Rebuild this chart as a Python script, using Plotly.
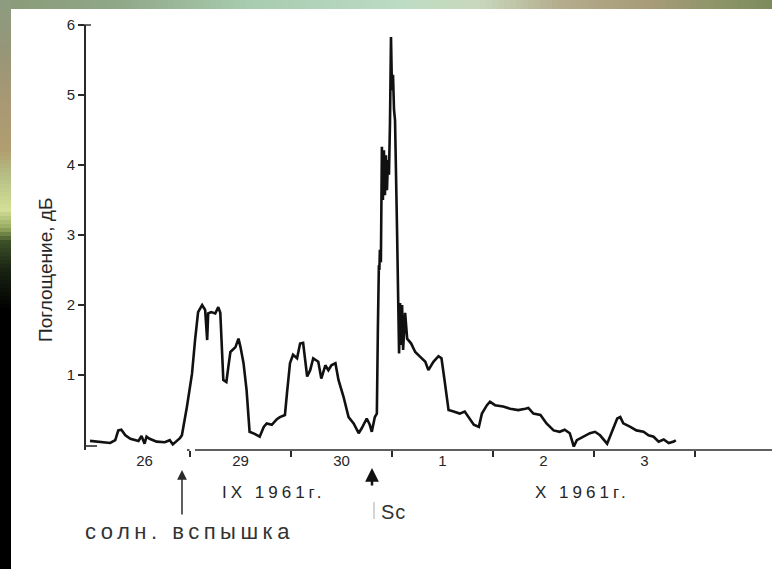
import plotly.graph_objects as go

# ---- data (days from start of 29 Sept 1961; absorption, dB) ----
days = [-0.99, -0.89, -0.79, -0.74, -0.71, -0.68, -0.64, -0.59, -0.51, -0.48,
        -0.45, -0.43, -0.40, -0.33, -0.25, -0.20, -0.17, -0.10, -0.08,
        -0.03, 0.02, 0.05, 0.08, 0.12, 0.15, 0.17, 0.18, 0.21, 0.25, 0.28, 0.30,
        0.33, 0.36, 0.38, 0.40, 0.45, 0.48, 0.50, 0.53, 0.56, 0.59, 0.64, 0.69,
        0.73, 0.76, 0.81, 0.86, 0.89, 0.94, 0.96, 0.99, 1.02, 1.06, 1.09, 1.12,
        1.16, 1.19, 1.22, 1.27, 1.30, 1.34, 1.37, 1.40, 1.44, 1.47, 1.52, 1.57,
        1.62, 1.67, 1.70, 1.75, 1.78, 1.80, 1.83, 1.85,
        1.86, 1.87, 1.875, 1.88, 1.89, 1.90, 1.91, 1.92, 1.93, 1.94, 1.95, 1.96,
        1.97, 1.98, 1.99, 2.00, 2.01, 2.02, 2.03, 2.05, 2.07, 2.08, 2.09, 2.10,
        2.11, 2.13, 2.15, 2.19, 2.23, 2.28, 2.33, 2.36, 2.41, 2.46, 2.49, 2.52,
        2.56, 2.61, 2.67, 2.72, 2.76, 2.81, 2.86, 2.89, 2.94, 2.97, 3.02, 3.10,
        3.17, 3.25, 3.32, 3.35, 3.40, 3.47, 3.53, 3.60, 3.66, 3.71, 3.76, 3.80,
        3.83, 3.89, 3.96, 4.01, 4.06, 4.13, 4.18, 4.23, 4.26, 4.29, 4.36, 4.42,
        4.49, 4.54, 4.59, 4.64, 4.69, 4.74, 4.79, 4.81]
absorption = [0.06, 0.05, 0.03, 0.07, 0.21, 0.22, 0.14, 0.09, 0.06, 0.13,
              0.02, 0.12, 0.09, 0.05, 0.04, 0.07, 0.01, 0.10, 0.14,
              0.55, 1.02, 1.50, 1.90, 2.00, 1.93, 1.50, 1.88, 1.90, 1.88, 1.97, 1.89,
              0.93, 0.90, 1.12, 1.33, 1.40, 1.52, 1.40, 1.17, 0.79, 0.19, 0.16, 0.12,
              0.26, 0.31, 0.29, 0.37, 0.40, 0.43, 0.74, 1.17, 1.29, 1.24, 1.45, 1.46,
              0.98, 1.07, 1.24, 1.19, 0.95, 1.14, 1.07, 1.14, 1.17, 0.93, 0.69, 0.40,
              0.31, 0.17, 0.24, 0.38, 0.29, 0.19, 0.40, 0.45,
              1.64, 2.57, 2.50, 2.79, 2.61, 4.26, 3.50, 4.21, 3.57, 4.14, 3.64, 4.07,
              3.86, 4.60, 5.83, 5.07, 5.29, 4.79, 4.64, 3.07, 1.31, 2.03, 1.43, 2.00,
              1.36, 1.89, 1.52, 1.45, 1.33, 1.26, 1.19, 1.07, 1.19, 1.27, 1.24, 0.93,
              0.50, 0.48, 0.45, 0.48, 0.40, 0.29, 0.26, 0.45, 0.57, 0.62, 0.57, 0.55,
              0.52, 0.50, 0.52, 0.53, 0.45, 0.43, 0.31, 0.21, 0.19, 0.22, 0.17, -0.02,
              0.07, 0.12, 0.17, 0.19, 0.14, 0.02, 0.19, 0.38, 0.40, 0.31, 0.26, 0.21,
              0.19, 0.14, 0.12, 0.05, 0.08, 0.03, 0.05, 0.07]

day_label_pos = [-0.45, 0.5, 1.5, 2.5, 3.5, 4.5]
day_labels = ["26", "29", "30", "1", "2", "3"]
day_boundaries = [0, 1, 2, 3, 4, 5]
y_ticks = [1, 2, 3, 4, 5, 6]

# ---- layout geometry (pixels) ----
W, H = 772, 569
L, R, T, B = 86, 772, 25, 450
XMIN, XMAX = (86 - 190) / 101, (772 - 190) / 101
YMIN, YMAX = -0.07, 6.0


def pxx(p):
    return (p - L) / (R - L)


def pxy(p):
    return (B - p) / (B - T)


def lerp_color(stops, v):
    for (a, ca), (b, cb) in zip(stops, stops[1:]):
        if a <= v <= b:
            t = (v - a) / (b - a) if b > a else 0
            c = [round(ca[i] + (cb[i] - ca[i]) * t) for i in range(3)]
            return "rgb(%d,%d,%d)" % tuple(c)
    return "rgb(%d,%d,%d)" % tuple(stops[-1][1])


top_stops = [(0, (138, 154, 120)), (120, (144, 168, 136)), (250, (168, 204, 176)),
             (400, (188, 220, 196)), (480, (200, 216, 188)), (560, (180, 172, 140)),
             (650, (168, 156, 120)), (720, (140, 148, 104)), (772, (124, 140, 92))]
left_stops = [(0, (140, 156, 128)), (50, (150, 150, 120)), (100, (168, 152, 116)),
              (150, (176, 158, 112)), (180, (184, 196, 136)), (210, (212, 222, 150)),
              (228, (150, 170, 96)), (242, (60, 80, 40)), (270, (25, 35, 18)),
              (310, (0, 0, 0)), (569, (0, 0, 0))]

shapes = []
step = 6
for x0 in range(0, W, step):
    shapes.append(dict(type="rect", xref="paper", yref="paper",
                       x0=pxx(x0), x1=pxx(x0 + step + 0.5), y0=pxy(9), y1=pxy(-1),
                       fillcolor=lerp_color(top_stops, x0 + step / 2), line_width=0,
                       layer="above"))
step = 4
for y0 in range(0, H, step):
    shapes.append(dict(type="rect", xref="paper", yref="paper",
                       x0=pxx(-1), x1=pxx(11), y0=pxy(y0 + step + 0.5), y1=pxy(y0),
                       fillcolor=lerp_color(left_stops, y0 + step / 2), line_width=0,
                       layer="above"))

axis_col = "#2a2a2a"
# x-axis base line (starts at 29 Sept)
shapes.append(dict(type="line", xref="paper", yref="paper", x0=pxx(195), x1=1,
                   y0=0, y1=0, line=dict(color=axis_col, width=1.6)))
shapes.append(dict(type="line", xref="paper", yref="paper", x0=pxx(187), x1=pxx(189.5),
                   y0=0, y1=0, line=dict(color=axis_col, width=1.6)))
# bottom-left corner of y axis
shapes.append(dict(type="line", xref="paper", yref="paper", x0=0, x1=pxx(97),
                   y0=pxy(446), y1=pxy(446), line=dict(color=axis_col, width=1.6)))
# cap at top of y axis
shapes.append(dict(type="line", xref="paper", yref="paper", x0=pxx(81), x1=pxx(91),
                   y0=1, y1=1, line=dict(color=axis_col, width=1.4)))
# thin bar before "Sc"
shapes.append(dict(type="line", xref="paper", yref="paper", x0=pxx(374), x1=pxx(374),
                   y0=pxy(502), y1=pxy(519), line=dict(color="#aaaaaa", width=1)))

font = "Liberation Sans, Arial, sans-serif"
txt = "#262626"
annotations = [
    dict(text="Поглощение, дБ", textangle=-90, x=pxx(45), y=pxy(270),
         xref="paper", yref="paper", xanchor="center", yanchor="middle",
         showarrow=False, font=dict(size=19, color=txt, family=font)),
    dict(text="<span style='letter-spacing:4px'>IX 1961г.</span>", x=pxx(220), y=pxy(492),
         xref="paper", yref="paper", xanchor="left", yanchor="middle", showarrow=False,
         font=dict(size=17, color=txt, family=font)),
    dict(text="<span style='letter-spacing:4px'>X 1961г.</span>", x=pxx(533), y=pxy(492),
         xref="paper", yref="paper", xanchor="left", yanchor="middle", showarrow=False,
         font=dict(size=17, color=txt, family=font)),
    dict(text="<span style='letter-spacing:4.5px'>солн. вспышка</span>", x=pxx(83), y=pxy(531),
         xref="paper", yref="paper", xanchor="left", yanchor="middle", showarrow=False,
         font=dict(size=22, color="#333333", family=font)),
    dict(text="", x=pxx(182), y=pxy(470), xref="paper", yref="paper",
         showarrow=True, ax=0, ay=46, arrowhead=2, arrowsize=1.3, arrowwidth=1.5,
         arrowcolor=axis_col),
    dict(text="", x=pxx(372), y=pxy(468), xref="paper", yref="paper",
         showarrow=True, ax=0, ay=19, arrowhead=2, arrowsize=1.1, arrowwidth=2.5,
         arrowcolor="#111111"),
    dict(text="<span style='letter-spacing:1px'>Sc</span>", x=pxx(379), y=pxy(512),
         xref="paper", yref="paper", xanchor="left", yanchor="middle", showarrow=False,
         font=dict(size=20, color="#333333", family=font)),
]

fig = go.Figure()
fig.add_trace(go.Scatter(x=days, y=absorption, mode="lines",
                         line=dict(color="#111111", width=2.6),
                         hoverinfo="skip", cliponaxis=False))

fig.update_layout(
    width=W, height=H,
    margin=dict(l=L, r=W - R, t=T, b=H - B, pad=0),
    paper_bgcolor="white", plot_bgcolor="white",
    showlegend=False,
    shapes=shapes,
    annotations=annotations,
    font=dict(family=font, color=txt),
    xaxis=dict(range=[XMIN, XMAX], showline=False, showgrid=False, zeroline=False,
               tickmode="array", tickvals=day_label_pos, ticktext=day_labels,
               ticks="", tickfont=dict(size=15, color=txt),
               minor=dict(tickmode="array", tickvals=day_boundaries, ticks="outside",
                          ticklen=6, tickwidth=1.5, tickcolor=axis_col, showgrid=False)),
    yaxis=dict(range=[YMIN, YMAX], showline=True, linecolor=axis_col, linewidth=1.6,
               showgrid=False, zeroline=False,
               tickmode="array", tickvals=y_ticks, ticks="outside", ticklen=6,
               tickwidth=1.5, tickcolor=axis_col, tickfont=dict(size=15, color=txt)),
)

fig.write_html("out.html", config={"displayModeBar": False},
               post_script="document.body.style.margin='0px';")
